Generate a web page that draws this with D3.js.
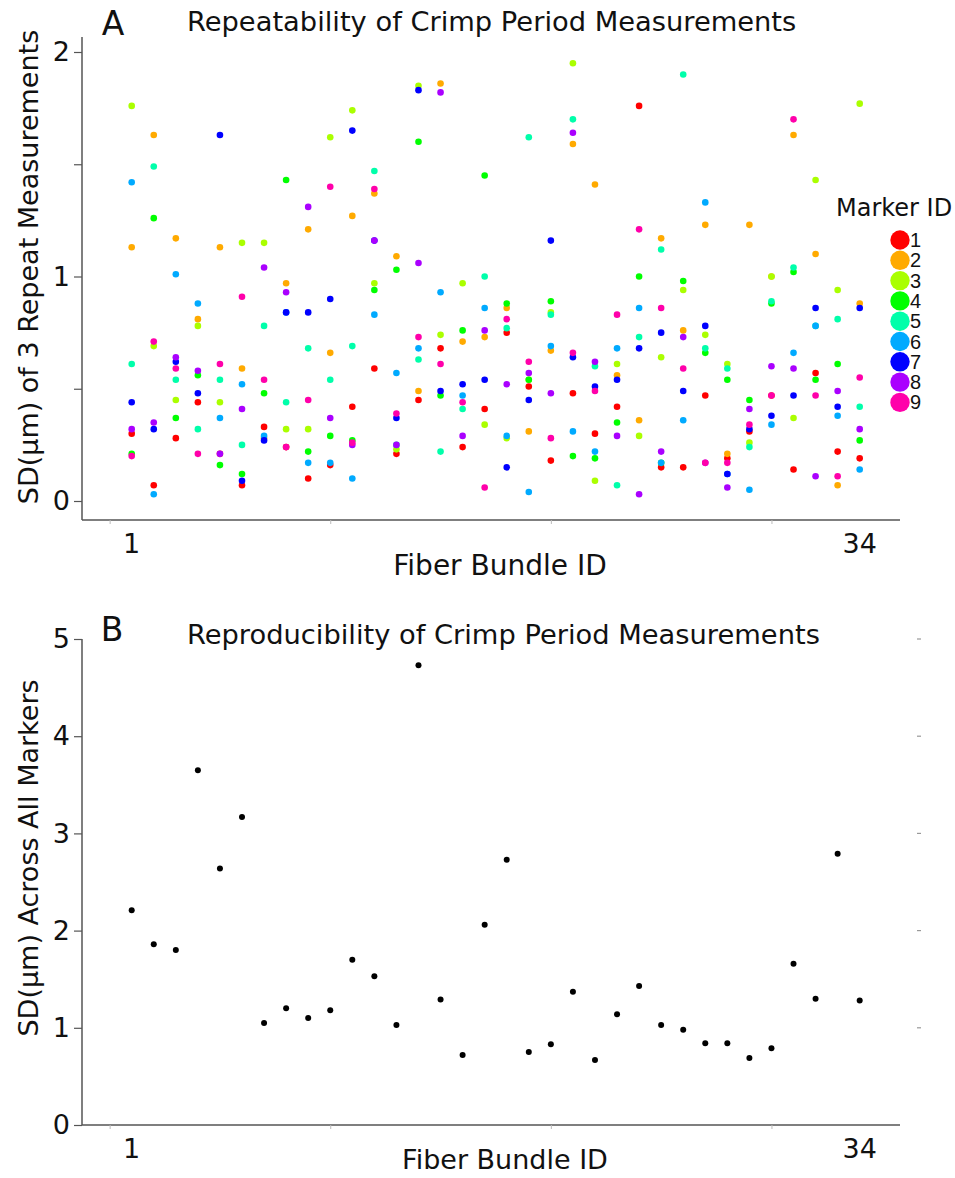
<!DOCTYPE html>
<html lang="en">
<head>
<meta charset="UTF-8">
<title>Crimp Period Measurements</title>
<script src="https://d3js.org/d3.v7.min.js"></script>
<style>
  body { margin: 0; background: #fff; }
  svg text { font-family: "DejaVu Sans", Verdana, sans-serif; fill: #111; }
</style>
</head>
<body>
<div id="chart"></div>
<script>
// fiber bundles 1..34
const bundleIds = d3.range(1, 35);
const markerIds = [1, 2, 3, 4, 5, 6, 7, 8, 9];
const markerColors = ["#ff0000", "#ffaa00", "#aaff00", "#00ff00", "#00ffaa", "#00aaff", "#0000ff", "#aa00ff", "#ff00aa"];

// SD of 3 repeat measurements, one array per marker, indexed by bundle
const marker1 = [0.30, 0.07, 0.28, 0.44, 0.21, 0.07, 0.33, 0.24, 0.10, 0.16, 0.42, 0.59, 0.21, 0.45, 0.68, 0.24, 0.41, 0.75, 0.51, 0.18, 0.48, 0.30, 0.42, 1.76, 0.15, 0.15, 0.47, 0.19, 0.31, 0.47, 0.14, 0.57, 0.22, 0.19];
const marker2 = [1.13, 1.63, 1.17, 0.81, 1.13, 0.59, 0.28, 0.97, 1.21, 0.66, 1.27, 1.37, 1.09, 0.49, 1.86, 0.71, 0.73, 0.86, 0.31, 0.67, 1.59, 1.41, 0.56, 0.36, 1.17, 0.76, 1.23, 0.21, 1.23, 1.00, 1.63, 1.10, 0.07, 0.88];
const marker3 = [1.76, 0.69, 0.45, 0.78, 0.44, 1.15, 1.15, 0.32, 0.32, 1.62, 1.74, 0.97, 0.23, 1.85, 0.74, 0.97, 0.34, 0.28, 0.54, 0.84, 1.95, 0.09, 0.61, 0.29, 0.64, 0.94, 0.74, 0.61, 0.26, 1.00, 0.37, 1.43, 0.94, 1.77];
const marker4 = [0.21, 1.26, 0.37, 0.56, 0.16, 0.12, 0.48, 1.43, 0.22, 0.29, 0.27, 0.94, 1.03, 1.60, 0.47, 0.76, 1.45, 0.88, 0.54, 0.89, 0.20, 0.19, 0.35, 1.00, 0.17, 0.98, 0.66, 0.54, 0.45, 0.88, 1.02, 0.54, 0.61, 0.27];
const marker5 = [0.61, 1.49, 0.54, 0.32, 0.54, 0.25, 0.78, 0.44, 0.68, 0.54, 0.69, 1.47, 0.25, 0.63, 0.22, 0.41, 1.00, 0.77, 1.62, 0.83, 1.70, 0.60, 0.07, 0.73, 1.12, 1.90, 0.68, 0.59, 0.24, 0.89, 1.04, 0.78, 0.81, 0.42];
const marker6 = [1.42, 0.03, 1.01, 0.88, 0.37, 0.52, 0.29, 0.84, 0.17, 0.17, 0.10, 0.83, 0.57, 0.68, 0.93, 0.47, 0.86, 0.29, 0.04, 0.69, 0.31, 0.22, 0.68, 0.86, 0.17, 0.36, 1.33, 0.12, 0.05, 0.34, 0.66, 0.78, 0.38, 0.14];
const marker7 = [0.44, 0.32, 0.62, 0.48, 1.63, 0.09, 0.27, 0.84, 0.84, 0.90, 1.65, 1.16, 0.37, 1.83, 0.49, 0.52, 0.54, 0.15, 0.45, 1.16, 0.64, 0.51, 0.54, 0.68, 0.75, 0.49, 0.78, 0.12, 0.32, 0.38, 0.47, 0.86, 0.42, 0.86];
const marker8 = [0.32, 0.35, 0.64, 0.58, 0.21, 0.41, 1.04, 0.93, 1.31, 0.37, 0.25, 1.16, 0.25, 1.06, 1.82, 0.29, 0.76, 0.52, 0.57, 0.48, 1.64, 0.62, 0.29, 0.03, 0.22, 0.73, 0.17, 0.06, 0.41, 0.60, 0.59, 0.11, 0.49, 0.32];
const marker9 = [0.20, 0.71, 0.59, 0.21, 0.61, 0.91, 0.54, 0.24, 0.45, 1.40, 0.26, 1.39, 0.39, 0.73, 0.61, 0.44, 0.06, 0.81, 0.62, 0.28, 0.66, 0.49, 0.83, 1.21, 0.86, 0.59, 0.17, 0.17, 0.34, 0.47, 1.70, 0.47, 0.11, 0.55];
const repeatSD = [marker1, marker2, marker3, marker4, marker5, marker6, marker7, marker8, marker9];

// SD across all markers, by bundle
const reproSD = [2.21, 1.86, 1.80, 3.65, 2.64, 3.17, 1.05, 1.20, 1.10, 1.18, 1.70, 1.53, 1.03, 4.73, 1.29, 0.72, 2.06, 2.73, 0.75, 0.83, 1.37, 0.67, 1.14, 1.43, 1.03, 0.98, 0.84, 0.84, 0.69, 0.79, 1.66, 1.30, 2.79, 1.28];

const width = 955, height = 1178;
const axisX = 82, axisRight = 900;

const svg = d3.select("#chart").append("svg")
    .attr("width", width)
    .attr("height", height);

const x = d3.scaleLinear().domain([1, 34]).range([131.7, 859.7]);

function drawFrame(y, top, bottom, yTicks, labelled) {
    const g = svg.append("g");
    // axis lines
    g.append("line").attr("x1", axisX).attr("x2", axisX).attr("y1", top).attr("y2", bottom)
        .attr("stroke", "#555").attr("stroke-width", 1.5);
    g.append("line").attr("x1", axisX).attr("x2", axisRight).attr("y1", bottom).attr("y2", bottom)
        .attr("stroke", "#555").attr("stroke-width", 1.5);

    const yAxis = g.append("g")
        .attr("transform", `translate(${axisX},0)`)
        .call(d3.axisLeft(y).tickValues(yTicks).tickSize(8).tickPadding(4)
            .tickFormat(d => labelled.includes(d) ? d : ""));
    yAxis.select(".domain").remove();
    yAxis.selectAll(".tick line").attr("stroke", "#555").attr("stroke-width", 1.2);
    yAxis.selectAll(".tick text").style("font-size", "27px").attr("fill", "#111");

    // faint minor ticks under the x axis
    const xAxis = g.append("g")
        .attr("transform", `translate(0,${bottom})`)
        .call(d3.axisBottom(x).tickValues([0, 10, 20, 30]).tickSize(4).tickFormat(""));
    xAxis.select(".domain").remove();
    xAxis.selectAll(".tick line").attr("stroke", "#bbb");

    // first and last bundle labels
    g.selectAll(".xlab")
        .data([1, 34])
        .join("text")
        .attr("x", d => x(d))
        .attr("y", bottom + 33)
        .attr("text-anchor", "middle")
        .style("font-size", "27px")
        .text(d => d);
    return g;
}

// ---------- Panel A ----------
const yA = d3.scaleLinear().domain([0, 2]).range([501, 52]);
drawFrame(yA, 37, 520, [0, 0.5, 1, 1.5, 2], [0, 1, 2]);

svg.append("text").attr("x", 113).attr("y", 35).attr("text-anchor", "middle")
    .style("font-size", "33px").text("A");
svg.append("text").attr("x", 187).attr("y", 31)
    .style("font-size", "27.3px").text("Repeatability of Crimp Period Measurements");
svg.append("text").attr("transform", "translate(38,267) rotate(-90)").attr("text-anchor", "middle")
    .style("font-size", "27px").text("SD(\u00b5m) of 3 Repeat Measurements");
svg.append("text").attr("x", 500).attr("y", 575).attr("text-anchor", "middle")
    .style("font-size", "28px").text("Fiber Bundle ID");

repeatSD.forEach((vals, m) => {
    svg.append("g")
        .selectAll("circle")
        .data(vals)
        .join("circle")
        .attr("cx", (d, i) => x(bundleIds[i]))
        .attr("cy", d => yA(d))
        .attr("r", 3.3)
        .attr("fill", markerColors[m]);
});

// legend
const legend = svg.append("g");
legend.append("text").attr("x", 836).attr("y", 216)
    .style("font-size", "24px").text("Marker ID");
legend.selectAll("circle")
    .data(markerIds)
    .join("circle")
    .attr("cx", 900)
    .attr("cy", (d, i) => 240 + i * 20.3)
    .attr("r", 9.7)
    .attr("fill", (d, i) => markerColors[i]);
legend.selectAll(".lab")
    .data(markerIds)
    .join("text")
    .attr("x", 910)
    .attr("y", (d, i) => 247 + i * 20.3)
    .style("font-family", "'Liberation Sans', Arial, sans-serif")
    .style("font-size", "20px")
    .text(d => d);

// ---------- Panel B ----------
const yB = d3.scaleLinear().domain([0, 5]).range([1125, 639]);
drawFrame(yB, 639, 1125, [0, 1, 2, 3, 4, 5], [0, 1, 2, 3, 4, 5]);

svg.append("text").attr("x", 112).attr("y", 641).attr("text-anchor", "middle")
    .style("font-size", "33px").text("B");
svg.append("text").attr("x", 187).attr("y", 644)
    .style("font-size", "27.3px").text("Reproducibility of Crimp Period Measurements");
svg.append("text").attr("transform", "translate(38,858) rotate(-90)").attr("text-anchor", "middle")
    .style("font-size", "27px").text("SD(\u00b5m) Across All Markers");
svg.append("text").attr("x", 505).attr("y", 1169).attr("text-anchor", "middle")
    .style("font-size", "27px").text("Fiber Bundle ID");

// faint dashes on the right edge
svg.append("g").selectAll("line")
    .data([1, 2, 3, 4, 5])
    .join("line")
    .attr("x1", 917).attr("x2", 921)
    .attr("y1", d => yB(d)).attr("y2", d => yB(d))
    .attr("stroke", "#999").attr("stroke-width", 1.2);

svg.append("g")
    .selectAll("circle")
    .data(reproSD)
    .join("circle")
    .attr("cx", (d, i) => x(bundleIds[i]))
    .attr("cy", d => yB(d))
    .attr("r", 3)
    .attr("fill", "#000");
</script>
</body>
</html>
